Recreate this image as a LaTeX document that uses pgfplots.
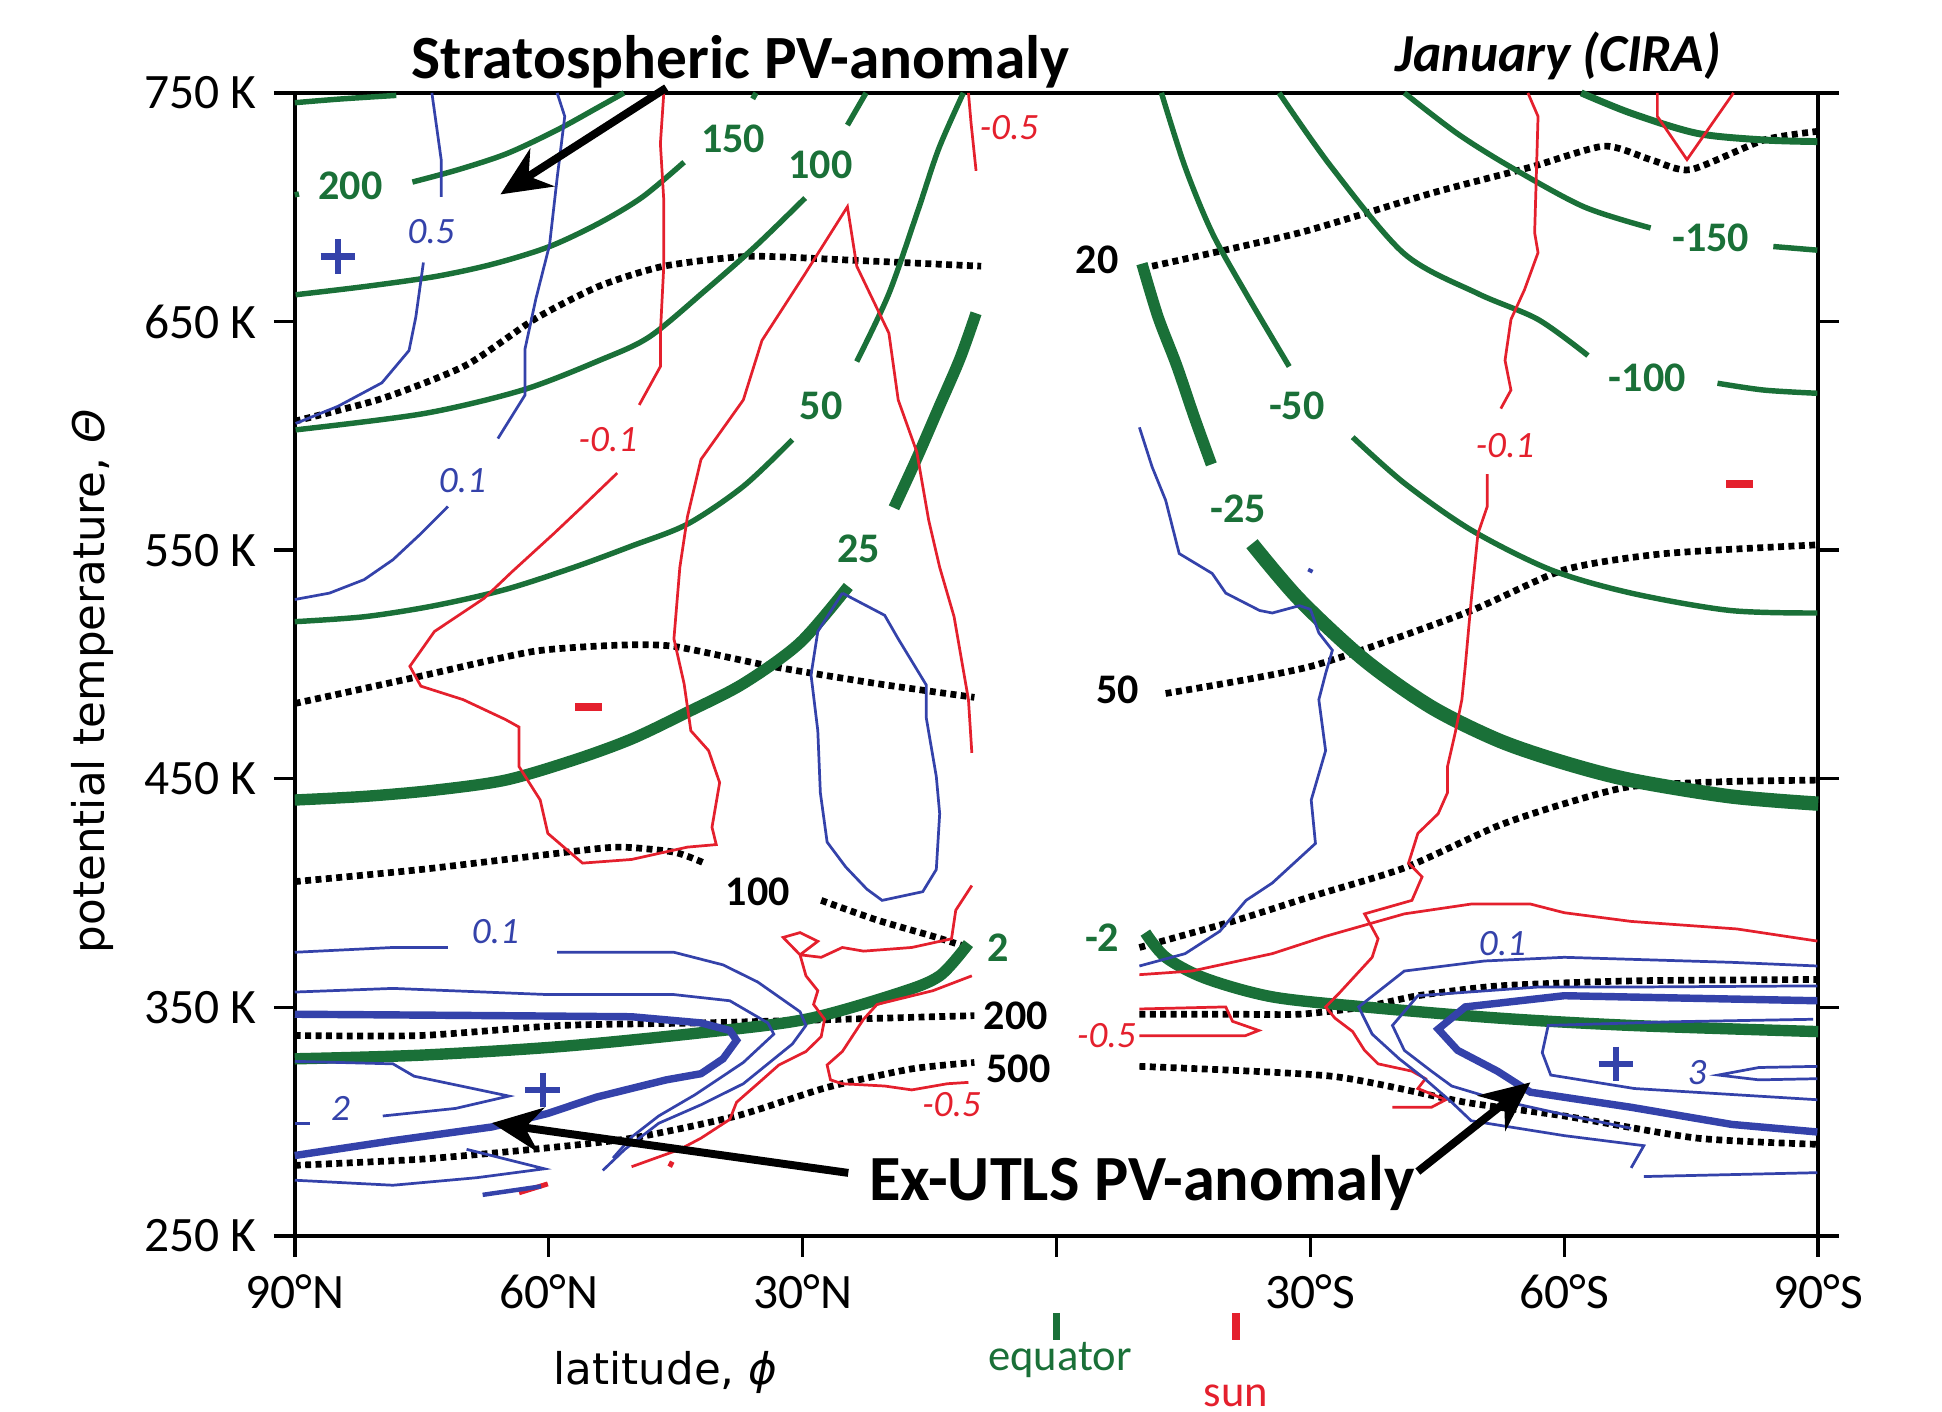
\documentclass[border=0pt]{standalone}
\usepackage{fontspec}
\setmainfont{Carlito}
\newfontfamily\dejavu{DejaVu Sans}
\usepackage{pgfplots}
\pgfplotsset{compat=1.18}
\usetikzlibrary{arrows.meta}
\definecolor{pvgreen}{RGB}{26,112,56}
\definecolor{pvred}{RGB}{228,32,45}
\definecolor{pvblue}{RGB}{52,66,170}
\newcommand{\glab}{\fontsize{8.5}{10}\selectfont\bfseries}
\newcommand{\ilab}{\fontsize{7.5}{9}\selectfont\itshape}
\begin{document}
\begin{tikzpicture}
\begin{axis}[
  scale only axis, width=307.5pt, height=230.75pt,
  xmin=-90, xmax=90, ymin=250, ymax=750,
  xtick={-90,-60,-30,0,30,60,90},
  xticklabels={90°N,60°N,30°N,{},30°S,60°S,90°S},
  ytick={250,350,450,550,650,750},
  yticklabels={250 K,350 K,450 K,550 K,650 K,750 K},
  tick align=outside, xtick pos=lower, ytick pos=both, yticklabel pos=left,
  major tick length=4.2pt,
  tick style={black, line width=0.7pt},
  axis line style={line width=0.7pt},
  ticklabel style={font=\fontsize{10}{12}\selectfont},
  clip=false,
  dotl/.style={black, line width=1.35pt, dash pattern=on 1.2pt off 0.9pt, mark=none, smooth, tension=0.4},
  gthin/.style={pvgreen, line width=1.1pt, mark=none, smooth, tension=0.5},
  gthick/.style={pvgreen, line width=2.3pt, mark=none, smooth, tension=0.5},
  rl/.style={pvred, line width=0.55pt, mark=none},
  bl/.style={pvblue, line width=0.55pt, mark=none},
  bthick/.style={pvblue, line width=1.5pt, mark=none},
]
% ---------- dotted pressure levels ----------
\addplot[dotl] coordinates {(-90,606.4) (-79.7,616.3) (-69.8,630.8) (-61.5,651.4) (-54.0,665.5) (-46.4,674.2) (-36.4,678.5) (-24.7,676.9) (-8.9,674.2)};
\addplot[dotl] coordinates {(11.3,674.2) (28.7,688.8) (44.3,706.1) (56.0,717.5) (64.7,726.7) (70.2,720.8) (74.9,716.4) (83.6,729.4) (90,733.2)};
\addplot[dotl] coordinates {(-90,482.9) (-75.1,494.9) (-61.8,505.7) (-51.9,508.4) (-45.2,507.9) (-33.7,499.2) (-21.2,491.6) (-9.7,485.6)};
\addplot[dotl] coordinates {(12.9,487.3) (30.1,499.2) (48.3,522.5) (60.0,541.4) (71.9,548.5) (89.9,552.3)};
\addplot[dotl] coordinates {(-90,405.0) (-75.1,410.3) (-60.1,416.9) (-51.9,420.1) (-45.2,417.9) (-41.6,413.1)};
\addplot[dotl] coordinates {(-27.8,396.8) (-21.2,388.2) (-14.6,381.1) (-10.4,376.2)};
\addplot[dotl] coordinates {(9.8,376.2) (20.8,387.6) (30.1,398.5) (41.1,411.0) (52.1,429.3) (60.0,439.1) (67.9,446.6) (79.6,448.8) (89.9,449.4)};
\addplot[dotl] coordinates {(-90,337.7) (-75.1,337.7) (-58.5,342.1) (-42.0,343.2) (-25.3,344.8) (-9.7,346.4)};
\addplot[dotl] coordinates {(9.8,347.0) (20.8,347.0) (28.7,347.0) (36.4,350.2) (42.7,355.1) (52.3,359.4) (67.9,361.6) (89.9,362.2)};
\addplot[dotl] coordinates {(-90,280.9) (-75.1,283.6) (-61.9,287.9) (-50.2,292.8) (-37.8,302.5) (-27.1,315.0) (-17.1,323.1) (-9.7,325.9)};
\addplot[dotl] coordinates {(9.8,324.2) (32.5,319.9) (48.3,308.5) (60.0,302.5) (75.7,292.8) (89.9,290.1)};
% ---------- green contours ----------
\addplot[gthin] coordinates {(-90,745.7) (-84.7,747.3) (-78,748.9)};
\addplot[gthin] coordinates {(-90,705.4) (-89.5,705.8)};
\addplot[gthin] coordinates {(-76.1,711.0) (-70.7,716.4) (-64.9,723.5) (-59.0,733.8) (-54.0,744.0) (-51.1,750)};
\addplot[gthin] coordinates {(-89.9,661.7) (-81.5,665.4) (-73.2,669.8) (-66.4,675.3) (-59.9,682.8) (-54.0,693.1) (-48.9,704.5) (-44.0,719.7)};
\addplot[gthin] coordinates {(-35.9,747.4) (-35.5,750)};
\addplot[gthin] coordinates {(-89.9,602.6) (-74.8,609.7) (-63.1,620.0) (-54.0,633.0) (-48.1,643.3) (-41.4,663.9) (-35.6,682.8) (-29.7,704.0)};
\addplot[gthin] coordinates {(-24.7,735.9) (-22.5,750)};
\addplot[gthin] coordinates {(-90,518.7) (-81.7,520.9) (-73.5,525.7) (-65.1,532.8) (-57.0,542.5) (-50.2,551.8) (-43.6,561.4) (-37.0,577.9) (-31.2,598.3)};
\addplot[gthin] coordinates {(-23.6,632.5) (-19.8,662.2) (-16.4,698.2) (-13.9,725.7) (-11.0,750)};
\addplot[gthick] coordinates {(-90,440.7) (-81.7,442.3) (-73.5,445.0) (-65.1,449.4) (-57.0,458.2) (-50.2,467.4) (-43.6,479.1) (-37.0,491.6) (-30.3,509.5) (-24.6,534.1)};
\addplot[gthick] coordinates {(-19.2,568.5) (-16.5,590.2) (-13.9,612.4) (-11.4,633.8) (-9.5,653.6)};
\addplot[gthick] coordinates {(-90,327.5) (-75.1,329.1) (-58.5,332.9) (-42.0,338.9) (-29.6,344.8) (-18.7,356.2) (-13.8,363.8) (-10.4,377.9)};
\addplot[gthick] coordinates {(10.5,382.7) (12.9,371.9) (17.6,362.7) (25.5,354.6) (36.4,350.2) (52.3,345.3) (67.9,342.1) (90,339.4)};
\addplot[gthick] coordinates {(10.1,675.3) (12.0,652.0) (14.2,630.8) (16.3,608.0) (18.3,587.5)};
\addplot[gthick, line width=2.9pt] coordinates {(23.1,552.8) (28.7,528.4) (36.4,501.9) (44.3,481.3) (52.3,466.7) (60.0,457.0) (67.9,449.4) (79.6,442.3) (90,439.1)};
\addplot[gthin] coordinates {(12.4,750) (15.2,717.5) (18.4,688.8) (22.4,662.2) (27.5,630.3)};
\addplot[gthin] coordinates {(35.0,599.4) (41.1,579.3) (49.0,558.8) (58.4,541.4) (67.9,531.2) (79.6,523.6) (89.9,522.5)};
\addplot[gthin] coordinates {(26.3,750) (32.5,717.5) (41.1,679.6) (49.8,662.2) (56.9,650.9) (62.8,635.1)};
\addplot[gthin] coordinates {(78.1,623.0) (83.6,620.0) (89.9,618.6)};
\addplot[gthin] coordinates {(41.1,750) (47.4,732.1) (53.7,717.5) (62.3,700.2) (70.2,690.9)};
\addplot[gthin] coordinates {(84.7,682.8) (89.9,681.2)};
\addplot[gthin, line width=1.4pt] coordinates {(62.0,750) (67.9,741.1) (75.7,732.3) (83.6,729.4) (89.9,728.7)};
% ---------- red contours ----------
\addplot[rl] coordinates {(-10.4,750) (-10.1,737.1) (-9.5,715.9)};
\addplot[rl] coordinates {(-46.4,749.8) (-46.8,727.8) (-46.4,703.1) (-46.4,674.2) (-46.8,645.0) (-46.8,630.3) (-49.3,613.5)};
\addplot[rl] coordinates {(-51.9,583.7) (-56.0,569.1) (-59.4,557.2) (-64.4,540.3) (-67.6,529.0) (-73.5,514.4) (-76.4,499.2) (-75.1,490.5) (-70.1,484.6) (-65.1,475.9) (-63.5,472.6) (-63.5,455.3) (-61.0,440.7) (-60.1,426.1) (-56.0,413.1) (-50.2,414.7) (-43.6,420.1) (-40.2,421.2) (-40.7,428.8) (-39.8,448.3) (-41.1,462.3) (-43.2,471.0) (-44.0,491.6) (-45.2,511.2) (-44.5,542.5) (-43.6,564.7) (-42.0,589.7) (-37.0,615.7) (-34.8,641.7) (-29.7,670.9) (-24.7,700.2) (-23.6,674.2) (-19.8,644.9) (-18.7,615.7) (-16.5,592.9) (-15.1,563.1) (-13.8,542.5) (-12.1,520.9) (-10.4,484.6) (-10.0,461.3)};
\addplot[rl] coordinates {(55.7,750) (56.9,739.7) (56.5,688.8) (56.9,680.1) (55.3,663.9) (53.7,650.9) (53.0,633.0) (53.7,620.0) (52.5,611.9)};
\addplot[rl] coordinates {(50.9,583.2) (50.9,569.1) (49.8,557.2) (49.0,527.9) (48.3,499.2) (47.9,484.6) (47.1,469.9) (46.2,455.3) (46.2,443.9) (45.1,434.7) (42.7,426.1) (41.6,413.1) (43.2,407.1) (42.0,396.8) (36.4,390.9) (38.0,380.0) (37.3,371.9) (33.4,356.2) (31.8,350.2) (32.9,345.3) (35.0,339.4) (36.4,331.2) (38.0,325.3) (42.0,322.1) (43.6,318.8) (42.7,314.5) (46.0,309.6) (44.3,306.3) (39.7,306.3)};
\addplot[rl] coordinates {(71.0,750) (71.0,739.7) (74.5,720.8) (80.0,750)};
\addplot[rl] coordinates {(9.8,364.3) (16.0,365.9) (25.5,373.5) (31.8,381.1) (41.1,390.9) (49.0,395.2) (56.0,395.2) (60.0,391.4) (67.9,387.6) (80.4,384.3) (89.9,379.0)};
\addplot[rl] coordinates {(9.8,349.3) (20.0,350.2) (20.8,343.9) (23.9,339.9) (22.3,337.6) (9.8,337.6)};
\addplot[rl] coordinates {(-10.0,403.3) (-11.9,392.5) (-12.4,380.0) (-17.1,376.2) (-22.8,374.6) (-25.3,376.2) (-27.8,371.9) (-30.3,373.0) (-32.3,380.6) (-30.3,382.7) (-28.2,378.9) (-30.3,373.0) (-29.6,363.8) (-28.2,357.3) (-28.7,351.3) (-27.4,344.8) (-27.8,337.2) (-29.6,330.7) (-32.8,324.8) (-35.3,316.6) (-37.8,308.5) (-38.6,301.0) (-42.0,292.8) (-44.5,287.9) (-50.2,280.3)};
\addplot[rl] coordinates {(-10.0,363.8) (-14.6,357.3) (-21.2,351.3) (-22.8,344.8) (-25.3,330.7) (-27.1,324.8) (-26.7,318.3) (-25.3,316.6) (-20.3,315.6) (-17.1,313.9) (-12.9,316.6) (-10.4,317.2)};
\addplot[rl, line width=1pt] coordinates {(-63.5,268.9) (-60.1,272.8)};
\addplot[rl, line width=1pt] coordinates {(-45.7,280.3) (-45.4,282.5)};
% ---------- blue contours ----------
\addplot[bl] coordinates {(-73.8,750) (-72.7,720.8) (-72.7,704.5)};
\addplot[bl] coordinates {(-74.8,675.8) (-75.7,651.9) (-76.5,637.3) (-79.7,623.2) (-84.9,612.9) (-89.9,605.4)};
\addplot[bl] coordinates {(-59.0,750) (-58.1,739.7) (-59.0,712.7) (-59.9,683.4) (-61.5,660.1) (-62.8,637.9) (-62.8,617.8) (-66.0,598.8)};
\addplot[bl] coordinates {(-71.9,569.1) (-75.1,557.2) (-78.4,545.8) (-81.8,537.1) (-85.9,531.2) (-90,528.4)};
\addplot[bl] coordinates {(-25.3,531.2) (-20.3,521.5) (-18.7,511.2) (-15.4,491.1) (-15.4,477.0) (-14.2,451.0) (-13.8,434.7) (-14.2,410.3) (-15.8,400.6) (-20.6,396.8) (-22.4,401.7) (-24.9,411.4) (-27.1,422.3) (-27.9,443.9) (-28.2,471.0) (-29.0,495.4) (-28.2,514.4) (-25.3,531.2)};
\addplot[bl] coordinates {(9.8,603.7) (11.3,586.4) (12.9,571.8) (14.5,548.5) (18.4,539.8) (20.0,531.2) (24.0,523.6) (25.5,522.5) (28.7,525.7) (30.0,524.1) (31.0,513.8) (32.6,506.2) (31.8,496.0) (31.0,484.6) (31.8,462.3) (30.1,440.7) (30.6,421.7) (25.5,404.4) (22.4,396.8) (19.3,383.3) (15.2,373.5) (9.8,368.1)};
\addplot[bl, line width=1pt] coordinates {(29.9,540.3) (30.1,541.8)};
\addplot[bl] coordinates {(-90,374.1) (-78.4,376.2) (-71.9,376.2)};
\addplot[bl] coordinates {(-59.0,374.1) (-45.2,374.1) (-39.4,368.6) (-35.3,361.1) (-30.3,348.1) (-29.6,342.1) (-31.2,334.0) (-37.0,316.6) (-42.0,307.4) (-47.0,299.3) (-51.0,287.9) (-53.6,278.7)};
\addplot[bl] coordinates {(-90,356.7) (-78.4,358.3) (-60.1,355.6) (-45.2,355.6) (-38.6,352.9) (-34.1,343.2) (-33.4,338.3) (-37.0,325.9) (-42.7,311.8) (-47.0,302.5) (-50.2,293.3) (-52.4,284.1)};
\addplot[bthick] coordinates {(-90,347.0) (-66.7,346.4) (-50.2,345.9) (-42.0,343.2) (-38.6,339.9) (-37.8,335.6) (-39.4,327.5) (-42.0,321.0) (-46.1,318.3) (-54.4,310.7) (-60.1,303.6) (-66.7,297.7) (-78.4,291.7) (-90,285.2)};
\addplot[bl] coordinates {(-90,326.4) (-78.4,325.3) (-75.9,319.9) (-64.7,311.2) (-71.0,305.8) (-79.6,302.5)};
\addplot[bl] coordinates {(-90,299.3) (-88.2,299.3)};
\addplot[bl] coordinates {(-90,274.4) (-78.4,272.2) (-68.5,275.5) (-60.5,279.4) (-69.7,287.9)};
\addplot[bl, line width=0.9pt] coordinates {(-67.8,268.0) (-60.9,271.7)};
\addplot[bl] coordinates {(89.9,368.1) (79.8,369.7) (60.0,371.9) (50.6,370.3) (41.1,365.9) (35.7,350.2) (37.3,338.3) (40.5,327.5) (43.5,318.8) (46.7,308.5) (49.0,300.4) (60.0,293.9) (69.4,289.5) (67.9,279.8)};
\addplot[bl] coordinates {(89.9,359.4) (67.9,358.9) (56.9,358.9) (42.7,355.1) (39.7,342.1) (41.1,331.2) (44.3,322.1) (46.7,315.6) (52.1,309.6) (60.0,303.1) (67.9,297.1)};
\addplot[bthick] coordinates {(89.9,352.9) (60.0,355.1) (48.3,350.2) (45.1,340.5) (47.4,331.2) (52.1,322.1) (56.0,312.9) (67.9,306.3) (79.8,298.8) (89.9,295.5)};
\addplot[bl] coordinates {(89.4,344.8) (72.7,343.7) (58.1,342.1) (57.4,330.2) (58.4,320.4) (68.3,314.5) (89.9,309.6)};
\addplot[bl] coordinates {(89.9,324.2) (83.0,323.7) (78.2,320.4) (83.0,318.3) (89.9,318.8)};
\addplot[bl] coordinates {(69.4,276.0) (89.9,277.7)};
% ---------- signs ----------
\addplot[pvblue, only marks, mark=+, mark size=3.5pt, line width=1.3pt] coordinates {(-84.9,678.5) (-60.7,313.9) (66.1,325.3)};
\addplot[pvred, only marks, mark=-, mark size=2.7pt, line width=1.5pt] coordinates {(-55.3,481.4) (80.7,578.9)};
% equator and sun markers
\addplot[pvgreen, line width=1.6pt, mark=none] coordinates {(0,216.4) (0,204.5)};
\addplot[pvred, line width=1.6pt, mark=none] coordinates {(21.2,216.4) (21.2,204.5)};
% ---------- labels ----------
\node[text=pvgreen, font=\glab] at (axis cs:-83.4,709.4) {200};
\node[text=pvgreen, font=\glab] at (axis cs:-38.2,729.9) {150};
\node[text=pvgreen, font=\glab] at (axis cs:-27.9,718.6) {100};
\node[text=pvgreen, font=\glab] at (axis cs:-27.8,612.9) {50};
\node[text=pvgreen, font=\glab] at (axis cs:-23.4,550.6) {25};
\node[text=pvgreen, font=\glab] at (axis cs:-6.9,376.2) {2};
\node[text=pvgreen, font=\glab] at (axis cs:5.4,380.6) {-2};
\node[text=pvgreen, font=\glab] at (axis cs:21.5,568.0) {-25};
\node[text=pvgreen, font=\glab] at (axis cs:28.4,612.9) {-50};
\node[text=pvgreen, font=\glab] at (axis cs:69.8,625.4) {-100};
\node[text=pvgreen, font=\glab] at (axis cs:77.3,686.6) {-150};
\node[font=\glab] at (axis cs:4.8,676.9) {20};
\node[font=\glab] at (axis cs:7.2,488.9) {50};
\node[font=\glab] at (axis cs:-35.3,400.6) {100};
\node[font=\glab] at (axis cs:-4.8,346.4) {200};
\node[font=\glab] at (axis cs:-4.5,323.1) {500};
\node[text=pvred, font=\ilab] at (axis cs:-5.6,734.8) {-0.5};
\node[text=pvred, font=\ilab] at (axis cs:-53.0,598.3) {-0.1};
\node[text=pvred, font=\ilab] at (axis cs:53.0,595.6) {-0.1};
\node[text=pvred, font=\ilab] at (axis cs:5.9,337.7) {-0.5};
\node[text=pvred, font=\ilab] at (axis cs:-12.4,307.4) {-0.5};
\node[text=pvblue, font=\ilab] at (axis cs:-73.9,689.4) {0.5};
\node[text=pvblue, font=\ilab] at (axis cs:-70.2,580.5) {0.1};
\node[text=pvblue, font=\ilab] at (axis cs:-66.3,383.3) {0.1};
\node[text=pvblue, font=\ilab] at (axis cs:-84.6,305.8) {2};
\node[text=pvblue, font=\ilab] at (axis cs:75.7,321.5) {3};
\node[text=pvblue, font=\ilab] at (axis cs:52.7,377.8) {0.1};
% titles and arrows
\node[font=\fontsize{12.4}{14}\selectfont\bfseries] at (axis cs:-37.3,763.5) {Stratospheric PV-anomaly};
\node[font=\fontsize{10.8}{12}\selectfont\bfseries\itshape] at (axis cs:59.3,766.2) {January (CIRA)};
\node[font=\fontsize{13}{15}\selectfont\bfseries] at (axis cs:10.1,273.3) {Ex-UTLS PV-anomaly};
\draw[line width=1.6pt, -{Stealth[length=10pt,width=9pt]}] (axis cs:-46.1,752.2) -- (axis cs:-65.7,705.6);
\draw[line width=1.6pt, -{Stealth[length=10pt,width=9pt]}] (axis cs:-24.6,277.6) -- (axis cs:-66.7,299.4);
\draw[line width=1.6pt, -{Stealth[length=10pt,width=9pt]}] (axis cs:42.7,278.2) -- (axis cs:56.0,317.2);
\node[text=pvgreen, font=\fontsize{9}{11}\selectfont] at (axis cs:0.4,195.8) {equator};
\node[text=pvred, font=\fontsize{9}{11}\selectfont] at (axis cs:21.2,180.1) {sun};
\node[font=\dejavu\fontsize{8.8}{10}\selectfont] at (axis cs:-46.2,190.4) {latitude, \textit{ϕ}};
\node[rotate=90, font=\dejavu\fontsize{8.8}{10}\selectfont] at (axis cs:-113.9,492.7) {potential temperature, \textit{Θ}};
\coordinate (BBsw) at (rel axis cs:-0.19350,-0.15385);
\coordinate (BBne) at (rel axis cs:1.08130,1.08126);
\end{axis}
\pgfresetboundingbox
\useasboundingbox (BBsw) rectangle (BBne);
\end{tikzpicture}
\end{document}
